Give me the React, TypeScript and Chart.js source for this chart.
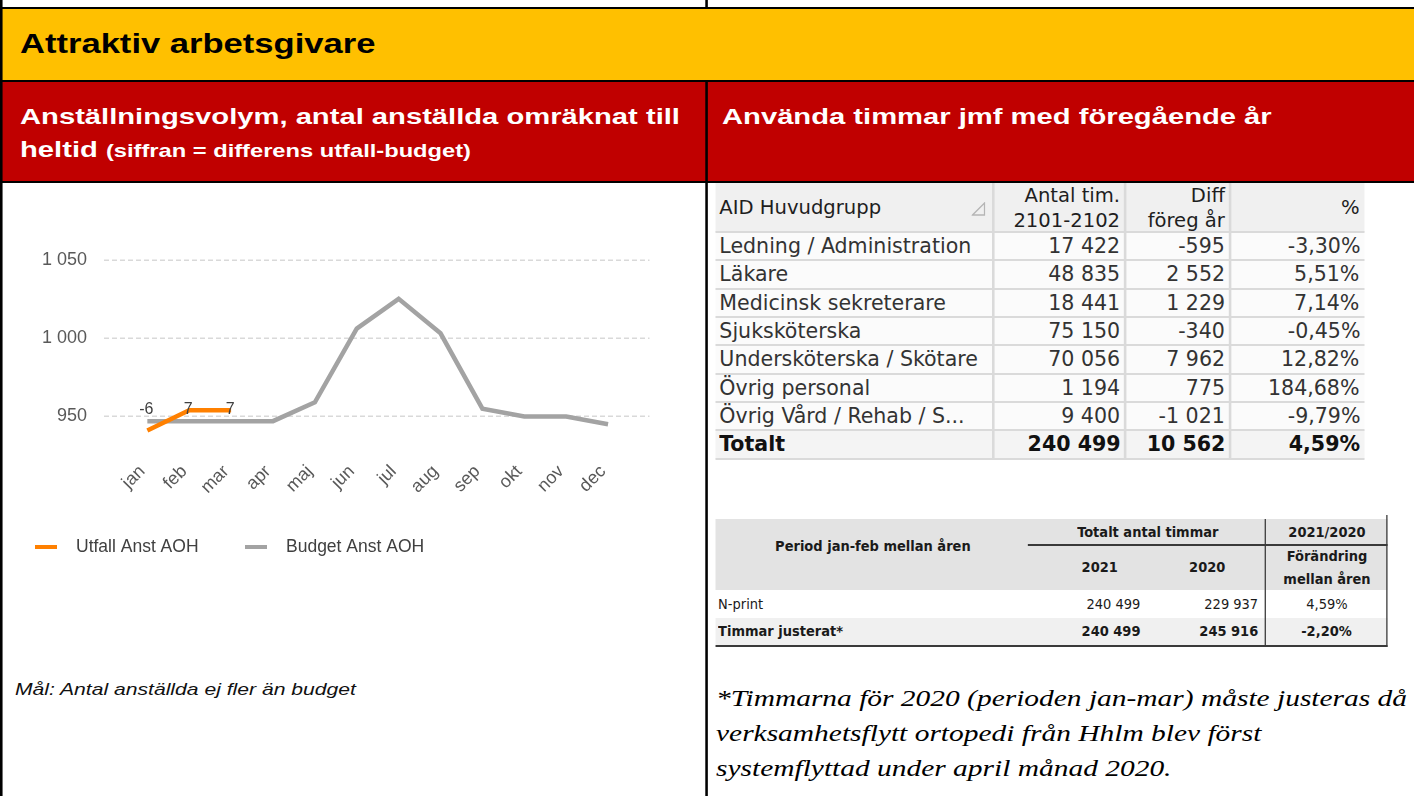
import React, { useEffect, useRef } from 'react';
import { Chart, registerables } from 'chart.js';

Chart.register(...registerables);

// ---------- data ----------
const months = ['jan', 'feb', 'mar', 'apr', 'maj', 'jun', 'jul', 'aug', 'sep', 'okt', 'nov', 'dec'];
const utfallAnst = [941, 954, 954, null, null, null, null, null, null, null, null, null];
const budgetAnst = [947, 947, 947, 947, 959, 1006, 1025, 1003, 955, 950, 950, 945];
const diffLabels = [-6, 7, 7];
const yTickValues = [950, 1000, 1050];
const seriesNames = ['Utfall Anst AOH', 'Budget Anst AOH'];
const seriesColors = ['#FF8000', '#A3A3A3'];

const aidGroups = [
  'Ledning / Administration',
  'Läkare',
  'Medicinsk sekreterare',
  'Sjuksköterska',
  'Undersköterska / Skötare',
  'Övrig personal',
  'Övrig Vård / Rehab / S...',
];
const aidHours = [17422, 48835, 18441, 75150, 70056, 1194, 9400];
const aidDiff = [-595, 2552, 1229, -340, 7962, 775, -1021];
const aidPct = [-3.3, 5.51, 7.14, -0.45, 12.82, 184.68, -9.79];
const aidTotal = { label: 'Totalt', hours: 240499, diff: 10562, pct: 4.59 };

const periodRows = ['N-print', 'Timmar justerat*'];
const hours2021 = [240499, 240499];
const hours2020 = [229937, 245916];
const changePct = [4.59, -2.2];

// ---------- helpers ----------
const S = 1.28; // horizontal stretch of the document part of the page
const X = (v: number) => v / S;
const fmtNum = (n: number) => String(n).replace(/\B(?=(\d{3})+(?!\d))/g, ' ');
const fmtPct = (n: number) => n.toFixed(2).replace('.', ',') + '%';

const SANS = '"Liberation Sans", Arial, sans-serif';
const COND = '"DejaVu Sans Condensed", "DejaVu Sans", sans-serif';
const SERIF = '"Liberation Serif", "Times New Roman", serif';

function Box(props: { l: number; t: number; w: number; h: number; bg: string }) {
  return (
    <div
      style={{
        position: 'absolute',
        left: X(props.l),
        top: props.t,
        width: X(props.w),
        height: props.h,
        background: props.bg,
      }}
    />
  );
}

function Cell(props: {
  l: number;
  r: number;
  t: number;
  b: number;
  align: 'left' | 'right' | 'center';
  padL?: number;
  padR?: number;
  sx?: number;
  style?: React.CSSProperties;
  children: React.ReactNode;
}) {
  const { l, r, t, b, align } = props;
  const origin = align === 'right' ? '100% 50%' : align === 'center' ? '50% 50%' : '0 50%';
  return (
    <div
      style={{
        position: 'absolute',
        left: X(l),
        top: t,
        width: X(r - l),
        height: b - t,
        display: 'flex',
        alignItems: 'center',
        justifyContent: align === 'right' ? 'flex-end' : align === 'center' ? 'center' : 'flex-start',
        textAlign: align,
        boxSizing: 'border-box',
        paddingLeft: X(props.padL ?? 0),
        paddingRight: X(props.padR ?? 0),
        whiteSpace: 'nowrap',
        ...props.style,
      }}
    >
      <div style={{ transform: `scaleX(${props.sx ?? 1})`, transformOrigin: origin }}>{props.children}</div>
    </div>
  );
}

// ---------- chart ----------
function EmployeeChart() {
  const ref = useRef<HTMLCanvasElement>(null);
  useEffect(() => {
    const canvas = ref.current!;
    const gridPlugin = {
      id: 'dashGrid',
      beforeDatasetsDraw(chart: any) {
        const { ctx, chartArea, scales } = chart;
        ctx.save();
        ctx.strokeStyle = '#D9D9D9';
        ctx.lineWidth = 1.5;
        ctx.setLineDash([5, 3]);
        yTickValues.forEach((v) => {
          const y = Math.round(scales.y.getPixelForValue(v)) + 0.25;
          ctx.beginPath();
          ctx.moveTo(chartArea.left - 22.4, y);
          ctx.lineTo(chartArea.right + 20.5, y);
          ctx.stroke();
        });
        ctx.restore();
      },
    };
    const labelPlugin = {
      id: 'diffLabels',
      afterDatasetsDraw(chart: any) {
        const { ctx, scales } = chart;
        const meta = chart.getDatasetMeta(0);
        const vals = utfallAnst.filter((v) => v !== null) as number[];
        const y = scales.y.getPixelForValue(Math.max(...vals)) - 1;
        ctx.save();
        ctx.font = `16px ${SANS}`;
        ctx.fillStyle = '#404040';
        ctx.textAlign = 'center';
        ctx.textBaseline = 'middle';
        diffLabels.forEach((d, i) => {
          const el = meta.data[i];
          ctx.fillText(String(d), el.x - 1, y);
        });
        ctx.restore();
      },
    };
    const legendX = [35, 245];
    const legendPlugin = {
      id: 'lineLegend',
      afterDraw(chart: any) {
        const { ctx } = chart;
        const y = 364;
        ctx.save();
        chart.data.datasets.forEach((ds: any, i: number) => {
          const x = legendX[i];
          ctx.fillStyle = ds.borderColor;
          ctx.fillRect(x, y - 2, 22, 4);
          ctx.fillStyle = '#404040';
          ctx.font = `17.5px ${SANS}`;
          ctx.textAlign = 'left';
          ctx.textBaseline = 'middle';
          ctx.fillText(ds.label, x + 41, y);
        });
        ctx.restore();
      },
    };
    const chart = new Chart(canvas, {
      type: 'line',
      data: {
        labels: months,
        datasets: [
          {
            label: seriesNames[0],
            data: utfallAnst,
            borderColor: seriesColors[0],
            backgroundColor: seriesColors[0],
            borderWidth: 4.5,
            pointRadius: 0,
            tension: 0,
            spanGaps: false,
          },
          {
            label: seriesNames[1],
            data: budgetAnst,
            borderColor: seriesColors[1],
            backgroundColor: seriesColors[1],
            borderWidth: 4.5,
            pointRadius: 0,
            tension: 0,
          },
        ],
      },
      options: {
        animation: false,
        responsive: false,
        devicePixelRatio: 1,
        layout: { padding: { top: 57, right: 76, bottom: 0, left: 0 } },
        plugins: { legend: { display: false }, tooltip: { enabled: false } },
        scales: {
          x: {
            type: 'category',
            offset: true,
            grid: { display: false, drawTicks: false },
            border: { display: false },
            ticks: {
              color: '#595959',
              font: { size: 18, family: SANS },
              minRotation: 45,
              maxRotation: 45,
              autoSkip: false,
              padding: 21,
              labelOffset: -5,
            },
            afterFit: (s: any) => {
              s.height = 143;
            },
          },
          y: {
            min: 935,
            max: 1062.5,
            grid: { display: false, drawTicks: false },
            border: { display: false },
            ticks: {
              color: '#595959',
              font: { size: 18, family: SANS },
              padding: 39.4,
              callback: (v: any) => fmtNum(Number(v)),
            },
            afterBuildTicks: (s: any) => {
              s.ticks = yTickValues.map((v) => ({ value: v }));
            },
            afterFit: (s: any) => {
              s.width = 126.4;
            },
          },
        },
      },
      plugins: [gridPlugin, labelPlugin, legendPlugin],
    });
    return () => chart.destroy();
  }, []);
  return (
    <div style={{ position: 'fixed', left: 0, top: 183, width: 705, height: 400 }}>
      <canvas ref={ref} width={705} height={400} style={{ width: 705, height: 400, display: 'block' }} />
    </div>
  );
}

// ---------- tables ----------
function AidTable() {
  const L = 715, c1 = 993, c2 = 1125, c3 = 1230, R = 1365;
  const top = 183, headB = 232, rowH = 28.33;
  const rowsAll = aidGroups.length + 1;
  const bottom = headB + rowsAll * rowH;
  const line = '#DADADA';
  const SX = 0.85;
  const txt: React.CSSProperties = { fontFamily: COND, fontSize: 21, color: '#333' };
  const els: React.ReactNode[] = [];
  els.push(<Box key="hbg" l={L} t={top} w={R - L} h={headB - top} bg="#F0F0F0" />);
  els.push(<Box key="bbg" l={L} t={headB} w={R - L} h={bottom - headB} bg="#FBFBFB" />);
  els.push(<Box key="tbg" l={L} t={headB + (rowsAll - 1) * rowH} w={R - L} h={rowH} bg="#F4F4F4" />);
  for (let i = 0; i <= rowsAll; i++) {
    els.push(<Box key={'hl' + i} l={L} t={headB + i * rowH - 1} w={R - L} h={2} bg={line} />);
  }
  [c1, c2, c3].forEach((c, i) => els.push(<Box key={'vl' + i} l={c - 1} t={top} w={2} h={bottom - top} bg={line} />));
  const hs: React.CSSProperties = { fontFamily: COND, fontSize: 20, color: '#1E1E1E', lineHeight: '25px' };
  els.push(
    <Cell key="h0" l={L} r={c1} t={top} b={headB} align="left" padL={4} sx={SX} style={hs}>
      AID Huvudgrupp
    </Cell>
  );
  els.push(
    <svg key="tri" style={{ position: 'absolute', left: X(972), top: 202 }} width={X(14)} height={14} viewBox="0 0 14 14" preserveAspectRatio="none">
      <polygon points="1,13 13,13 13,1" fill="none" stroke="#B5B5B5" strokeWidth="1.3" />
    </svg>
  );
  els.push(
    <Cell key="h1" l={c1} r={c2} t={top} b={headB} align="right" padR={5} sx={SX} style={hs}>
      Antal tim.<br />2101-2102
    </Cell>
  );
  els.push(
    <Cell key="h2" l={c2} r={c3} t={top} b={headB} align="right" padR={5} sx={SX} style={hs}>
      Diff<br />föreg år
    </Cell>
  );
  els.push(
    <Cell key="h3" l={c3} r={R} t={top} b={headB} align="right" padR={5} sx={SX} style={hs}>
      %
    </Cell>
  );
  const rows = aidGroups.map((g, i) => ({ label: g, hours: aidHours[i], diff: aidDiff[i], pct: aidPct[i], bold: false }));
  rows.push({ ...aidTotal, bold: true });
  rows.forEach((r, i) => {
    const t = headB + i * rowH;
    const b = t + rowH;
    const st: React.CSSProperties = { ...txt, fontWeight: r.bold ? 'bold' : 'normal', color: r.bold ? '#111' : '#333' };
    els.push(
      <Cell key={'a' + i} l={L} r={c1} t={t} b={b} align="left" padL={4} sx={SX} style={st}>
        {r.label}
      </Cell>
    );
    els.push(
      <Cell key={'b' + i} l={c1} r={c2} t={t} b={b} align="right" padR={5} sx={SX} style={st}>
        {fmtNum(r.hours)}
      </Cell>
    );
    els.push(
      <Cell key={'c' + i} l={c2} r={c3} t={t} b={b} align="right" padR={5} sx={SX} style={st}>
        {fmtNum(r.diff)}
      </Cell>
    );
    els.push(
      <Cell key={'d' + i} l={c3} r={R} t={t} b={b} align="right" padR={5} sx={SX} style={st}>
        {fmtPct(r.pct)}
      </Cell>
    );
  });
  return <>{els}</>;
}

function PeriodTable() {
  const L = 715, a = 1030, b = 1150, c = 1265, R = 1388;
  const y0 = 519, y1 = 545, y2 = 590, y3 = 618, y4 = 645;
  const dark = '#3A3A3A';
  const SX = 0.78;
  const base: React.CSSProperties = { fontFamily: COND, fontSize: 14.5, color: '#1A1A1A', lineHeight: '23px' };
  const bold: React.CSSProperties = { ...base, fontWeight: 'bold' };
  const els: React.ReactNode[] = [];
  els.push(<Box key="hb" l={L} t={y0} w={R - L} h={y2 - y0} bg="#E3E3E3" />);
  els.push(<Box key="r1" l={L} t={y2} w={R - L} h={y3 - y2} bg="#FFFFFF" />);
  els.push(<Box key="r2" l={L} t={y3} w={R - L} h={y4 - y3} bg="#F0F0F0" />);
  els.push(<Box key="bl" l={L} t={y4} w={R - L} h={2} bg={dark} />);
  els.push(<Box key="hl" l={a - 2} t={y1 - 1} w={R - a + 2} h={1.6} bg={dark} />);
  els.push(<Box key="vl" l={c - 1} t={y0} w={1.6} h={y4 - y0} bg={dark} />);
  els.push(<Box key="rb" l={R - 2} t={y0 - 4} w={1.8} h={y4 - y0 + 6} bg={dark} />);
  els.push(
    <Cell key="p" l={L} r={a} t={y0} b={y2 - 16} align="center" sx={SX} style={bold}>
      Period jan-feb mellan åren
    </Cell>
  );
  els.push(
    <Cell key="tt" l={a} r={c} t={y0} b={y1} align="center" sx={SX} style={bold}>
      Totalt antal timmar
    </Cell>
  );
  els.push(
    <Cell key="yy" l={c} r={R} t={y0} b={y1} align="center" sx={SX} style={bold}>
      2021/2020
    </Cell>
  );
  els.push(
    <Cell key="y21" l={a} r={b + 20} t={y1} b={y2} align="center" sx={SX} style={bold}>
      2021
    </Cell>
  );
  els.push(
    <Cell key="y20" l={b} r={c} t={y1} b={y2} align="center" sx={SX} style={bold}>
      2020
    </Cell>
  );
  els.push(
    <Cell key="fm" l={c} r={R} t={y1} b={y2} align="center" sx={SX} style={bold}>
      Förändring<br />mellan åren
    </Cell>
  );
  periodRows.forEach((name, i) => {
    const t = i === 0 ? y2 : y3;
    const bt = i === 0 ? y3 : y4;
    const st = i === 0 ? base : bold;
    els.push(
      <Cell key={'n' + i} l={L} r={a} t={t} b={bt} align="left" padL={3} sx={SX} style={st}>
        {name}
      </Cell>
    );
    els.push(
      <Cell key={'h1' + i} l={a} r={b} t={t} b={bt} align="right" padR={10} sx={SX} style={st}>
        {fmtNum(hours2021[i])}
      </Cell>
    );
    els.push(
      <Cell key={'h2' + i} l={b} r={c} t={t} b={bt} align="right" padR={7} sx={SX} style={st}>
        {fmtNum(hours2020[i])}
      </Cell>
    );
    els.push(
      <Cell key={'h3' + i} l={c} r={R} t={t} b={bt} align="center" sx={SX} style={st}>
        {fmtPct(changePct[i])}
      </Cell>
    );
  });
  return <>{els}</>;
}

export default function App() {
  useEffect(() => {
    document.body.style.margin = '0';
  }, []);
  return (
    <>
      <div
        style={{
          position: 'fixed',
          left: 0,
          top: 0,
          width: X(1414),
          height: 796,
          overflow: 'hidden',
          background: '#FFFFFF',
          transform: `scaleX(${S})`,
          transformOrigin: '0 0',
          fontFamily: SANS,
        }}
      >
        {/* bands and borders */}
        <Box l={0} t={9} w={1414} h={71} bg="#FFC000" />
        <Box l={0} t={82} w={1414} h={99} bg="#C00000" />
        <Box l={0} t={7} w={1414} h={2} bg="#000" />
        <Box l={0} t={80} w={1414} h={2} bg="#000" />
        <Box l={0} t={181} w={1414} h={2} bg="#000" />
        <Box l={0} t={0} w={3} h={796} bg="#000" />
        <Box l={705} t={0} w={2.5} h={9} bg="#000" />
        <Box l={705} t={82} w={2.5} h={714} bg="#000" />

        <div
          style={{
            position: 'absolute',
            left: X(20),
            top: 29.5,
            fontSize: 27,
            lineHeight: '28px',
            fontWeight: 'bold',
            color: '#000',
            whiteSpace: 'nowrap',
          }}
        >
          Attraktiv arbetsgivare
        </div>
        <div
          style={{
            position: 'absolute',
            left: X(20),
            top: 99.5,
            fontSize: 22.8,
            lineHeight: '33px',
            fontWeight: 'bold',
            color: '#FFF',
            whiteSpace: 'nowrap',
          }}
        >
          Anställningsvolym, antal anställda omräknat till
          <br />
          heltid <span style={{ fontSize: 18.5 }}>(siffran = differens utfall-budget)</span>
        </div>
        <div
          style={{
            position: 'absolute',
            left: X(722),
            top: 99.5,
            fontSize: 22.8,
            lineHeight: '33px',
            fontWeight: 'bold',
            color: '#FFF',
            whiteSpace: 'nowrap',
          }}
        >
          Använda timmar jmf med föregående år
        </div>

        <div
          style={{
            position: 'absolute',
            left: X(15),
            top: 679.3,
            fontSize: 16.5,
            lineHeight: '20px',
            fontStyle: 'italic',
            color: '#111',
            whiteSpace: 'nowrap',
          }}
        >
          Mål: Antal anställda ej fler än budget
        </div>

        <AidTable />
        <PeriodTable />

        <div
          style={{
            position: 'absolute',
            left: X(716),
            top: 681.2,
            fontFamily: SERIF,
            fontSize: 23,
            lineHeight: '35px',
            fontStyle: 'italic',
            color: '#000',
            whiteSpace: 'nowrap',
          }}
        >
          *Timmarna för 2020 (perioden jan-mar) måste justeras då
          <br />
          verksamhetsflytt ortopedi från Hhlm blev först
          <br />
          systemflyttad under april månad 2020.
        </div>
      </div>
      <EmployeeChart />
    </>
  );
}
